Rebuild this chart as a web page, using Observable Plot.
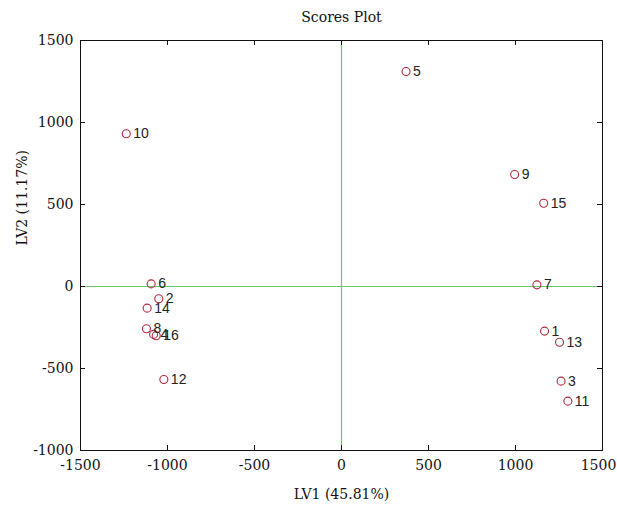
<!DOCTYPE html>
<html>
<head>
<meta charset="utf-8">
<script src="https://cdn.jsdelivr.net/npm/d3@7"></script>
<script src="https://cdn.jsdelivr.net/npm/@observablehq/plot@0.6"></script>
<style>
html,body{margin:0;padding:0;background:#fff;}
#chart svg{display:block;}
</style>
</head>
<body>
<div id="chart"></div>
<script>
const sampleIds = ["1","2","3","4","5","6","7","8","9","10","11","12","13","14","15","16"];
const lv1 = [1167,-1050,1262,-1080,371,-1094,1123,-1121,995,-1237,1301,-1021,1253,-1117,1162,-1065];
const lv2 = [-272,-75,-577,-292,1311,16,10,-258,683,931,-699,-567,-340,-132,508,-300];
const xTicks = [-1500,-1000,-500,0,500,1000,1500];
const yTicks = [-1000,-500,0,500,1000,1500];
const titleText = "Scores Plot";
const xLabel = "LV1 (45.81%)";
const yLabel = "LV2 (11.17%)";

const points = sampleIds.map((id, i) => ({id, x: lv1[i], y: lv2[i]}));

const W = 617, H = 507, ML = 80, MR = 15, MT = 40, MB = 57, TICK = 5;
const serif = "'DejaVu Serif', 'Liberation Serif', serif";
const innerTicks = xTicks.slice(0, -1);
const lastTick = xTicks.slice(-1);
const chart = Plot.plot({
  width: W,
  height: H,
  marginLeft: ML,
  marginRight: MR,
  marginTop: MT,
  marginBottom: MB,
  style: {fontFamily: serif, fontSize: "14px", background: "#fff", color: "#111"},
  x: {domain: [-1500, 1500]},
  y: {domain: [-1000, 1500]},
  marks: [
    Plot.ruleX([0], {stroke: "#6cc86c", strokeWidth: 1.2}),
    Plot.ruleY([0], {stroke: "#6cc86c", strokeWidth: 1.2}),
    // inward tick marks on all four sides
    Plot.ruleX(xTicks, {insetTop: H - MT - MB - TICK, stroke: "#111"}),
    Plot.ruleX(xTicks, {insetBottom: H - MT - MB - TICK, stroke: "#111"}),
    Plot.ruleY(yTicks, {insetRight: W - ML - MR - TICK, stroke: "#111"}),
    Plot.ruleY(yTicks, {insetLeft: W - ML - MR - TICK, stroke: "#111"}),
    Plot.frame({stroke: "#111", strokeWidth: 1}),
    Plot.axisX({anchor: "bottom", ticks: innerTicks, tickSize: 0, tickPadding: 10, fontSize: 14, label: null, tickFormat: d => String(d)}),
    Plot.axisX({anchor: "bottom", ticks: lastTick, tickSize: 0, tickPadding: 10, fontSize: 14, label: null, dx: -4, tickFormat: d => String(d)}),
    Plot.axisY({anchor: "left", ticks: yTicks, tickSize: 0, tickPadding: 7, fontSize: 14, label: null, tickFormat: d => String(d)}),
    Plot.dot(points, {x: "x", y: "y", r: 4, stroke: "#b0283c", strokeWidth: 1.1, fill: "none"}),
    Plot.text(points, {x: "x", y: "y", text: "id", dx: 7, textAnchor: "start", fontFamily: "'Liberation Sans', Arial, sans-serif", fontSize: 14, fill: "#222"}),
    Plot.text([titleText], {frameAnchor: "top", dy: -28, fontSize: 14, fill: "#111"}),
    Plot.text([xLabel], {frameAnchor: "bottom", dy: 48, fontSize: 14, fill: "#111"}),
    Plot.text([yLabel], {frameAnchor: "left", dx: -58, rotate: -90, fontSize: 14, fill: "#111"})
  ]
});
document.getElementById("chart").appendChild(chart);
</script>
</body>
</html>
